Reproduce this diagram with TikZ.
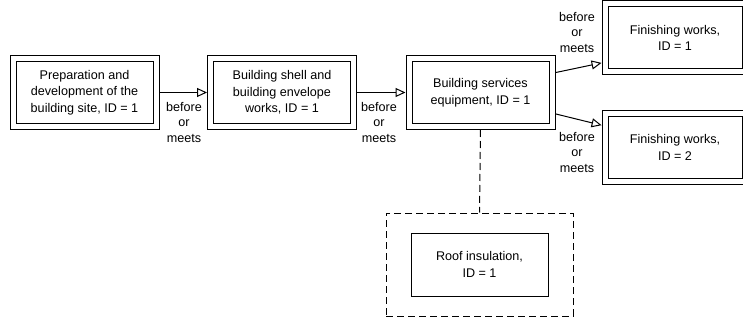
\documentclass[tikz,border=0pt]{standalone}
\usepackage{fontspec}
\setmainfont{Liberation Sans}
\usetikzlibrary{arrows.meta}
\tikzset{
  dbox/.style={draw, double, double distance=5pt, line width=1pt,
    minimum width=143pt, minimum height=68pt, align=center, inner sep=0pt,
    font=\fontsize{12.6}{16.5}\selectfont},
  sbox/.style={draw, line width=1pt, minimum width=137pt, minimum height=63pt,
    align=center, inner sep=0pt, font=\fontsize{12.6}{16.5}\selectfont},
  grpbox/.style={draw, line width=1pt, dash pattern=on 7pt off 4pt,
    minimum width=187pt, minimum height=103pt, inner sep=0pt},
  rel/.style={align=center, inner sep=0pt, font=\fontsize{12.6}{15.5}\selectfont},
  arr/.style={line width=1pt, -{Triangle[open, length=10pt, width=9pt, line width=1pt]},
    shorten <=3pt, shorten >=3pt},
  dline/.style={line width=1pt, dash pattern=on 7pt off 4pt, shorten <=3pt}
}
\begin{document}
\begin{tikzpicture}[x=1pt, y=-1pt]
\useasboundingbox (0,0) rectangle (743,323);
\clip (0,0) rectangle (743,323);
\node[dbox] (b1) at (84.5,92.5) {Preparation and\\development of the\\building site, ID = 1};
\node[dbox] (b2) at (282,92.5) {Building shell and\\building envelope\\works, ID = 1};
\node[dbox] (b3) at (480.5,92.5) {Building services\\equipment, ID = 1};
\node[dbox, minimum width=140pt] (f1) at (675,38) {Finishing works,\\ID = 1};
\node[dbox, minimum width=140pt] (f2) at (675,147.5) {Finishing works,\\ID = 2};
\node[grpbox] (grp) at (479.5,264.5) {};
\node[sbox] (roof) at (479.5,264.5) {Roof insulation,\\ID = 1};

\draw[arr] (b1) -- (b2);
\draw[arr] (b2) -- (b3);
\draw[arr] (b3.15) -- (f1.199);
\draw[arr] (b3.-16) -- (f2.163);
\draw[dline] (b3.south) -- (grp.north);

\node[rel] (l1) at (184,122) {before\\or\\meets};
\node[rel] (l2) at (379,122) {before\\or\\meets};
\node[rel] (l3) at (577,32) {before\\or\\meets};
\node[rel] (l4) at (577,152) {before\\or\\meets};
\end{tikzpicture}
\end{document}
